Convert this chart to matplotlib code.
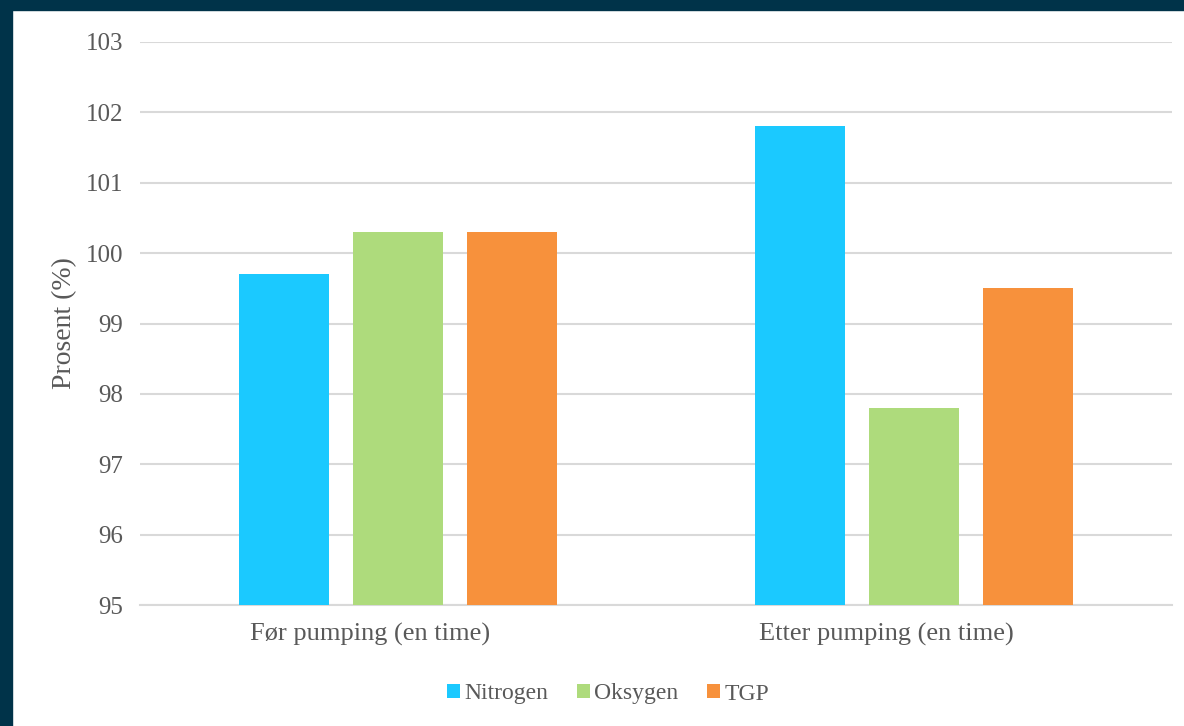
import numpy as np
import matplotlib.pyplot as plt
from matplotlib.patches import Rectangle
from matplotlib.transforms import ScaledTranslation

categories = ['Før pumping (en time)', 'Etter pumping (en time)']
series = ['Nitrogen', 'Oksygen', 'TGP']
nitrogen = [99.7, 101.8]
oksygen = [100.3, 97.8]
tgp = [100.3, 99.5]
colors = ['#1BC9FF', '#AEDB7C', '#F7913C']

plt.rcParams['font.family'] = ['Liberation Serif', 'DejaVu Serif']

W, H = 1184, 726
fig = plt.figure(figsize=(W / 100, H / 100), dpi=100)
fig.patch.set_facecolor('white')
navy = '#003349'
fig.patches.append(Rectangle((0, 1 - 10 / H), 1, 10 / H, transform=fig.transFigure, color=navy, zorder=0))
fig.patches.append(Rectangle((0, 0), 12 / W, 1, transform=fig.transFigure, color=navy, zorder=0))

ax = fig.add_axes([140 / W, (H - 605) / H, (1172 - 140) / W, (605 - 42) / H])
index = np.arange(len(categories))
bar_width = 0.1744
offset = 0.2209
for i, (name, vals) in enumerate(zip(series, [nitrogen, oksygen, tgp])):
    ax.bar(index + (i - 1) * offset, np.array(vals) - 95, bar_width, bottom=95,
           color=colors[i], label=name, zorder=3)

ax.set_xlim(-0.5, 1.5)
ax.set_ylim(95, 103)
ax.set_yticks(range(95, 104))
ax.set_xticks(index)
ax.set_xticklabels(categories, fontsize=19)
ax.grid(axis='y', color='#D9D9D9', linewidth=1.5, zorder=0)
for s in ['top', 'right', 'left']:
    ax.spines[s].set_visible(False)
ax.spines['bottom'].set_color('#D9D9D9')
ax.spines['bottom'].set_linewidth(1.5)
ax.tick_params(axis='both', length=0, colors='#595959')
ax.tick_params(axis='y', pad=12, labelsize=18)
ax.tick_params(axis='x', pad=13)
ax.set_ylabel('Prosent (%)', fontsize=20, color='#595959', labelpad=6)

# labels sit a little left of the group centre in the original
shift = ScaledTranslation(-0.28, 0, fig.dpi_scale_trans)
for lab in ax.get_xticklabels():
    lab.set_transform(lab.get_transform() + shift)

fig.legend(loc='center', bbox_to_anchor=(608 / W, 1 - 694 / H), ncol=3, frameon=False,
           fontsize=17, labelcolor='#595959', handlelength=0.55, handleheight=0.55,
           handletextpad=0.2, columnspacing=1.2)

fig.savefig('out.png', dpi=100, facecolor=fig.get_facecolor())
